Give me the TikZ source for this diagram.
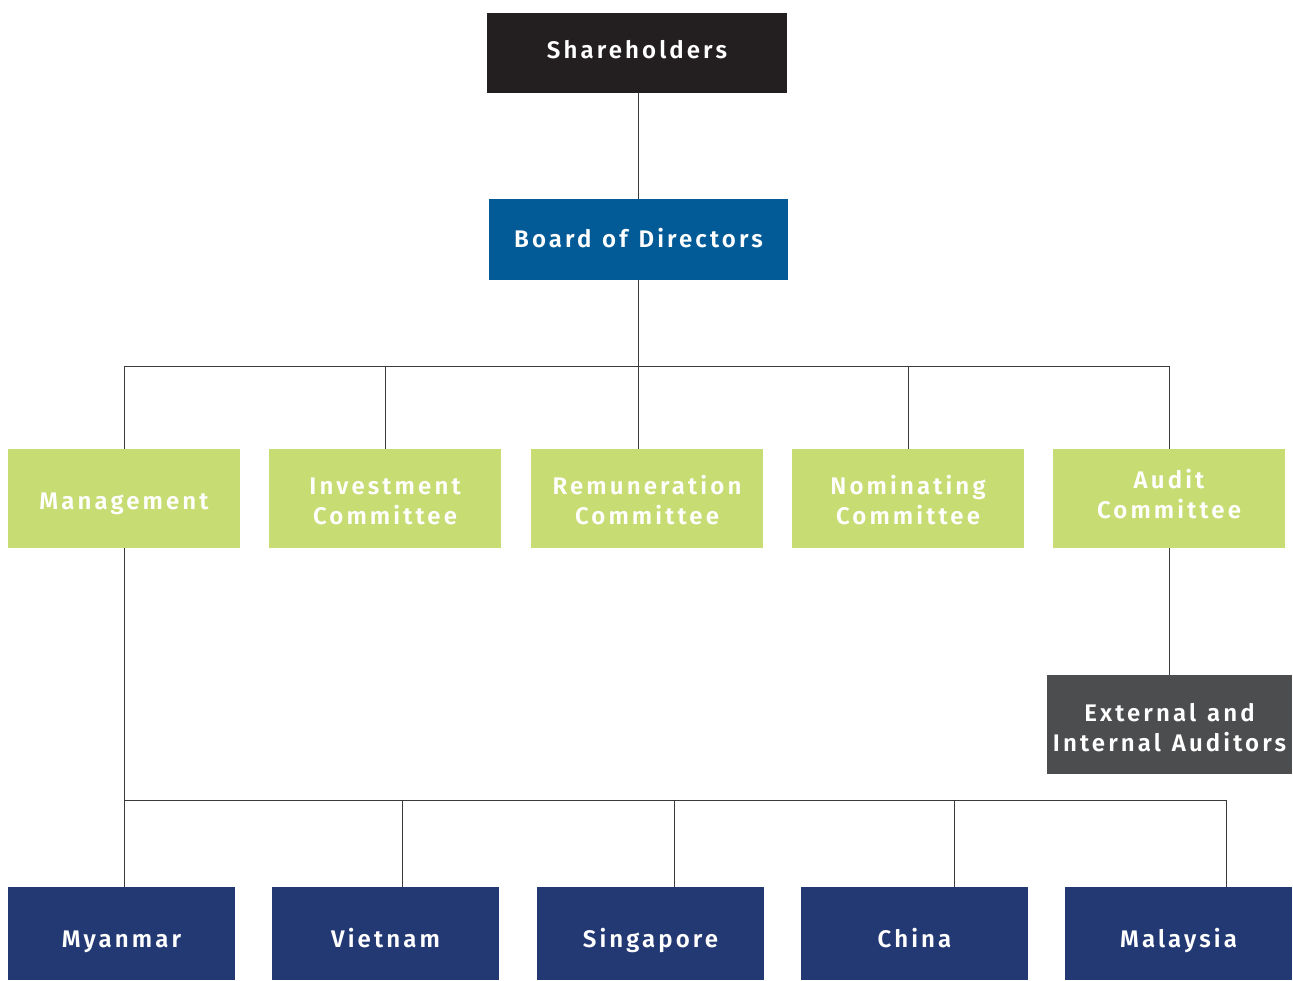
\documentclass[tikz,border=0pt]{standalone}
\usepackage{fontspec}
\setmainfont{Fira Sans}[LetterSpace=13,WordSpace=1.2,BoldFont={Fira Sans SemiBold}]
\usetikzlibrary{calc}
\definecolor{cblack}{HTML}{231F20}
\definecolor{cblue}{HTML}{025B97}
\definecolor{cgreen}{HTML}{C8DC74}
\definecolor{cgray}{HTML}{4C4D4F}
\definecolor{cnavy}{HTML}{233974}
\definecolor{cline}{HTML}{3A3A3A}
\newcommand{\twolines}[3]{\raisebox{#1}[0pt][0pt]{\begin{tabular}{@{}c@{}}#2\\#3\end{tabular}}}
\tikzset{
  box/.style={rectangle, inner sep=0pt, text=white, align=center,
    font=\fontsize{24}{30}\selectfont\bfseries},
  oneline/.style={text height=17pt, text depth=0pt},
  topbox/.style={box, oneline, minimum width=300pt, minimum height=80pt},
  greenbox/.style={box, fill=cgreen, minimum width=232pt, minimum height=99pt},
  navybox/.style={box, oneline, fill=cnavy, minimum width=227pt, minimum height=93pt},
  conn/.style={draw=cline, line width=1pt}
}
\begin{document}
\begin{tikzpicture}[x=1pt,y=-1pt]
\useasboundingbox (0,0) rectangle (1293,981);
\node[topbox, fill=cblack] (sh) at (637,53) {\raisebox{3pt}{Shareholders}};
\node[topbox, fill=cblue, minimum width=299pt, minimum height=81pt] (bod) at (638.5,239.5) {Board of Directors};

\node[greenbox, oneline] (mgmt) at (124,498.5) {\raisebox{-2.5pt}{Management}};
\node[greenbox] (inv) at (385,498.5) {\twolines{-11pt}{Investment}{Committee}};
\node[greenbox] (rem) at (647,498.5) {\twolines{-11pt}{Remuneration}{Committee}};
\node[greenbox] (nom) at (908,498.5) {\twolines{-11pt}{Nominating}{Committee}};
\node[greenbox] (aud) at (1169,498.5) {\twolines{-5pt}{Audit}{Committee}};

\node[box, fill=cgray, minimum width=245pt, minimum height=99pt] (ext) at (1169.5,724.5) {\twolines{-12pt}{External and}{Internal Auditors}};

\node[navybox] (mya) at (121.5,933.5) {\raisebox{-5.5pt}{Myanmar}};
\node[navybox] (vie) at (385.5,933.5) {\raisebox{-5.5pt}{Vietnam}};
\node[navybox] (sin) at (650.5,933.5) {\raisebox{-5.5pt}{Singapore}};
\node[navybox] (chi) at (914.5,933.5) {\raisebox{-5.5pt}{China}};
\node[navybox] (mal) at (1178.5,933.5) {\raisebox{-5.5pt}{Malaysia}};

\coordinate (bus) at (638,367);
\coordinate (bus2) at (124,800);

\draw[conn] (sh.south -| bod.north) -- (bod.north);
\draw[conn] (bod.south) -- (bod.south |- rem.north);
\draw[conn] (mgmt.north) -- (mgmt.north |- bus) -- (aud.north |- bus) -- (aud.north);
\draw[conn] (inv.north) -- (inv.north |- bus);
\draw[conn] (nom.north) -- (nom.north |- bus);
\draw[conn] (aud.south) -- (aud.south |- ext.north);

\draw[conn] (mgmt.south) -- (mgmt.south |- mya.north);
\draw[conn] (bus2) -- ([xshift=47.5pt]mal.north |- bus2) -- ([xshift=47.5pt]mal.north);
\draw[conn] ([xshift=16.5pt]vie.north) -- ([xshift=16.5pt]vie.north |- bus2);
\draw[conn] ([xshift=23.5pt]sin.north) -- ([xshift=23.5pt]sin.north |- bus2);
\draw[conn] ([xshift=39.5pt]chi.north) -- ([xshift=39.5pt]chi.north |- bus2);
\end{tikzpicture}
\end{document}
